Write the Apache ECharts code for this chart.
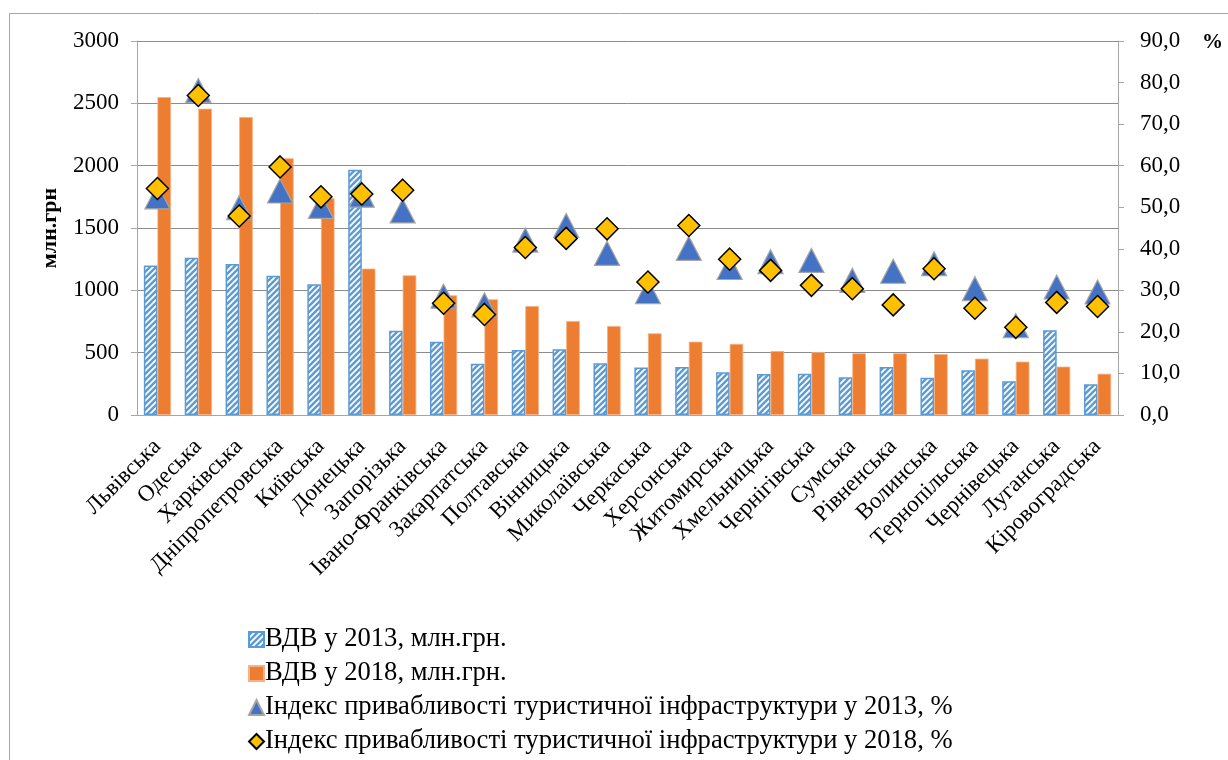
<!DOCTYPE html>
<html>
<head>
<meta charset="utf-8">
<script src="https://cdn.jsdelivr.net/npm/echarts@6/dist/echarts.min.js"></script>
<style>
  html, body { margin: 0; padding: 0; background: #fff; }
  #chart { width: 1228px; height: 760px; }
</style>
</head>
<body>
<div id="chart"></div>
<script>
const regions = ['Львівська', 'Одеська', 'Харківська', 'Дніпропетровська', 'Київська', 'Донецька',
  'Запорізька', 'Івано-Франківська', 'Закарпатська', 'Полтавська', 'Вінницька', 'Миколаївська',
  'Черкаська', 'Херсонська', 'Житомирська', 'Хмельницька', 'Чернігівська', 'Сумська',
  'Рівненська', 'Волинська', 'Тернопільська', 'Чернівецька', 'Луганська', 'Кіровоградська']
// ВДВ, млн.грн
const vdv2013 = [1200, 1262, 1211, 1117, 1048, 1968, 676, 588, 412, 521, 527, 415,
  382, 385, 342, 329, 331, 302, 385, 299, 358, 270, 679, 246]
const vdv2018 = [2550, 2457, 2390, 2059, 1738, 1174, 1120, 960, 928, 874, 754, 714,
  655, 588, 570, 513, 505, 495, 495, 489, 452, 428, 388, 331]
// індекс привабливості, %
const idx2013 = [52.5, 78.1, 49.9, 53.9, 50.2, 52.9, 49.1, 28.6, 26.5, 42.1, 45.6, 38.9,
  29.7, 40.1, 35.5, 36.9, 37.2, 32.4, 34.6, 36.4, 30.4, 21.5, 30.8, 29.6]
const idx2018 = [54.5, 76.9, 47.9, 59.7, 52.5, 53.2, 54.1, 26.9, 24.2, 40.3, 42.5, 44.8,
  32.0, 45.6, 37.5, 34.8, 31.2, 30.4, 26.5, 35.2, 25.7, 21.1, 27.1, 26.1]

const FONT = 'Liberation Serif'

// штрихування для 2013
function stripes() {
  const s = 6
  const c = document.createElement('canvas')
  c.width = s
  c.height = s
  const ctx = c.getContext('2d')
  ctx.fillStyle = '#5B9BD5'
  ctx.fillRect(0, 0, s, s)
  ctx.strokeStyle = '#ffffff'
  ctx.lineWidth = 1.8
  ctx.beginPath()
  ctx.moveTo(0, s); ctx.lineTo(s, 0)
  ctx.moveTo(-1, 1); ctx.lineTo(1, -1)
  ctx.moveTo(s - 1, s + 1); ctx.lineTo(s + 1, s - 1)
  ctx.stroke()
  return c
}

const myChart = echarts.init(document.getElementById('chart'))
const option = {
  animation: false,
  textStyle: { fontFamily: FONT, color: '#000' },
  grid: { left: 137, right: 110, top: 41, bottom: 345 },
  graphic: [
    {
      type: 'rect',
      shape: { x: 9.5, y: 13.5, width: 1400, height: 900 },
      style: { fill: 'none', stroke: '#a6a6a6', lineWidth: 1 },
      silent: true,
    },
    {
      type: 'text',
      left: 1202,
      top: 32,
      style: { text: '%', font: 'bold 21px ' + FONT, fill: '#000' },
    },
  ],
  legend: {
    orient: 'vertical',
    left: 243,
    top: 621,
    itemWidth: 15,
    itemHeight: 15,
    itemGap: 7,
    textStyle: { fontSize: 26.6, fontFamily: FONT, color: '#000', padding: [0, 0, 0, -4] },
    data: [
      { name: 'ВДВ у 2013, млн.грн.', icon: 'rect' },
      { name: 'ВДВ у 2018, млн.грн.', icon: 'rect' },
      'Індекс привабливості туристичної інфраструктури у 2013, %',
      'Індекс привабливості туристичної інфраструктури у 2018, %',
    ],
  },
  xAxis: {
    type: 'category',
    data: regions,
    axisLine: { lineStyle: { color: '#a6a6a6' } },
    axisTick: { length: 6, lineStyle: { color: '#a6a6a6' } },
    axisLabel: { rotate: 45, interval: 0, fontSize: 23, fontFamily: FONT, color: '#000', margin: 28 },
  },
  yAxis: [
    {
      type: 'value',
      min: 0,
      max: 3000,
      interval: 500,
      name: 'млн.грн',
      nameLocation: 'middle',
      nameRotate: 90,
      nameGap: 76,
      nameTextStyle: { fontSize: 22, fontWeight: 'bold', fontFamily: FONT, color: '#000' },
      axisLine: { show: true, lineStyle: { color: '#a6a6a6' } },
      axisTick: { show: true, length: 6, lineStyle: { color: '#a6a6a6' } },
      axisLabel: { fontSize: 23, fontFamily: FONT, color: '#000', margin: 18, formatter: (v) => String(v) },
      splitLine: { lineStyle: { color: '#8c8c8c', width: 1 } },
    },
    {
      type: 'value',
      position: 'right',
      min: 0,
      max: 90,
      interval: 10,
      axisLine: { show: true, lineStyle: { color: '#a6a6a6' } },
      axisTick: { show: true, length: 6, lineStyle: { color: '#a6a6a6' } },
      axisLabel: {
        fontSize: 23,
        fontFamily: FONT,
        color: '#000',
        margin: 22,
        formatter: (v) => v.toFixed(1).replace('.', ','),
      },
      splitLine: { show: false },
    },
  ],
  series: [
    {
      name: 'ВДВ у 2013, млн.грн.',
      type: 'bar',
      data: vdv2013,
      barWidth: 13.6,
      barGap: '0%',
      itemStyle: {
        color: { image: stripes(), repeat: 'repeat' },
        borderColor: '#5B9BD5',
        borderWidth: 1.5,
      },
    },
    {
      name: 'ВДВ у 2018, млн.грн.',
      type: 'bar',
      data: vdv2018,
      barWidth: 13.6,
      barGap: '0%',
      itemStyle: { color: '#ED7D31', borderColor: '#F4B183', borderWidth: 0.8 },
    },
    {
      name: 'Індекс привабливості туристичної інфраструктури у 2013, %',
      type: 'scatter',
      yAxisIndex: 1,
      data: idx2013,
      symbol: 'triangle',
      symbolSize: [25, 24],
      itemStyle: { color: '#4472C4', borderColor: '#A5A5A5', borderWidth: 1.2, opacity: 1 },
    },
    {
      name: 'Індекс привабливості туристичної інфраструктури у 2018, %',
      type: 'scatter',
      yAxisIndex: 1,
      data: idx2018,
      symbol: 'diamond',
      symbolSize: [22, 22],
      itemStyle: { color: '#FFC000', borderColor: '#000', borderWidth: 1.5, opacity: 1 },
    },
  ],
}
myChart.setOption(option)
</script>
</body>
</html>
